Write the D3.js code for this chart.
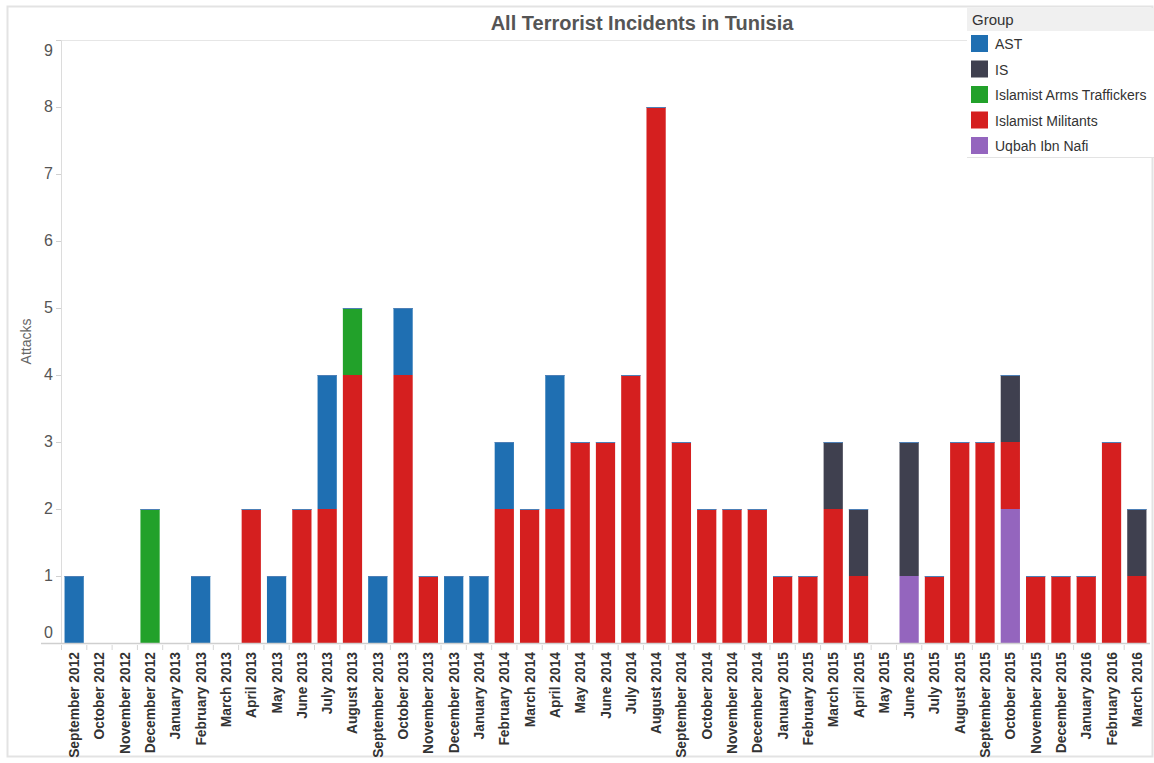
<!DOCTYPE html>
<html>
<head>
<meta charset="utf-8">
<script src="https://cdn.jsdelivr.net/npm/d3@7"></script>
<style>
  body { margin: 0; background: #fff; }
  text { font-family: "Liberation Sans", Arial, sans-serif; }
</style>
</head>
<body>
<div id="chart"></div>
<script>
const width = 1154;
const height = 763;

const months = [
  "September 2012", "October 2012", "November 2012", "December 2012",
  "January 2013", "February 2013", "March 2013", "April 2013", "May 2013",
  "June 2013", "July 2013", "August 2013", "September 2013", "October 2013",
  "November 2013", "December 2013", "January 2014", "February 2014",
  "March 2014", "April 2014", "May 2014", "June 2014", "July 2014",
  "August 2014", "September 2014", "October 2014", "November 2014",
  "December 2014", "January 2015", "February 2015", "March 2015",
  "April 2015", "May 2015", "June 2015", "July 2015", "August 2015",
  "September 2015", "October 2015", "November 2015", "December 2015",
  "January 2016", "February 2016", "March 2016"
];

// attacks per month, one array per group
const ast      = [1,0,0,0,0,1,0,0,1,0,2,0,1,1,0,1,1,1,0,2,0,0,0,0,0,0,0,0,0,0,0,0,0,0,0,0,0,0,0,0,0,0,0];
const is       = [0,0,0,0,0,0,0,0,0,0,0,0,0,0,0,0,0,0,0,0,0,0,0,0,0,0,0,0,0,0,1,1,0,2,0,0,0,1,0,0,0,0,1];
const arms     = [0,0,0,2,0,0,0,0,0,0,0,1,0,0,0,0,0,0,0,0,0,0,0,0,0,0,0,0,0,0,0,0,0,0,0,0,0,0,0,0,0,0,0];
const militant = [0,0,0,0,0,0,0,2,0,2,2,4,0,4,1,0,0,2,2,2,3,3,4,8,3,2,2,2,1,1,2,1,0,0,1,3,3,1,1,1,1,3,1];
const uqbah    = [0,0,0,0,0,0,0,0,0,0,0,0,0,0,0,0,0,0,0,0,0,0,0,0,0,0,0,0,0,0,0,0,0,1,0,0,0,2,0,0,0,0,0];

const groups = ["AST", "IS", "Islamist Arms Traffickers", "Islamist Militants", "Uqbah Ibn Nafi"];
const colors = ["#1f6fb2", "#3f404f", "#22a12a", "#d51f1f", "#9465be"];
const yTicks = [0, 1, 2, 3, 4, 5, 6, 7, 8, 9];

const seriesByGroup = {
  "AST": ast,
  "IS": is,
  "Islamist Arms Traffickers": arms,
  "Islamist Militants": militant,
  "Uqbah Ibn Nafi": uqbah
};

const rows = months.map((m, i) => {
  const r = { month: m };
  groups.forEach(g => { r[g] = seriesByGroup[g][i]; });
  return r;
});

// bottom of the stack is the last legend entry
const stackOrder = groups.slice().reverse();
const stacked = d3.stack().keys(stackOrder)(rows);

const margin = { top: 40, right: 4, bottom: 120, left: 61 };
const plotBottom = 643;

const color = d3.scaleOrdinal().domain(groups).range(colors);

const x = d3.scaleBand()
  .domain(months)
  .range([margin.left, width - margin.right])
  .paddingInner(0.24)
  .paddingOuter(0.14);

const y = d3.scaleLinear().domain([0, 9]).range([plotBottom, margin.top]);

const svg = d3.select("#chart")
  .append("svg")
  .attr("width", width)
  .attr("height", height);

// outer frame
svg.append("rect")
  .attr("x", 7.5).attr("y", 6.5)
  .attr("width", width - 9).attr("height", height - 13)
  .attr("fill", "none")
  .attr("stroke", "#e3e3e3")
  .attr("stroke-width", 2);

// top gridline
svg.append("line")
  .attr("x1", margin.left).attr("x2", width - margin.right)
  .attr("y1", y(9) + 0.5).attr("y2", y(9) + 0.5)
  .attr("stroke", "#e6e6e6");

// y axis
const yAxis = svg.append("g")
  .attr("transform", `translate(${margin.left},0)`)
  .call(d3.axisLeft(y).tickValues(yTicks).tickSize(5).tickFormat(d3.format("d")));
yAxis.select(".domain").attr("stroke", "#dcdcdc");
yAxis.selectAll(".tick line").attr("stroke", "#d0d0d0");
yAxis.selectAll(".tick text")
  .attr("x", -8)
  .attr("dy", d => d === 9 ? "0.95em" : d === 0 ? "-0.35em" : "0.3em")
  .attr("fill", "#555")
  .style("font-size", "16px");

svg.append("text")
  .attr("transform", `translate(31,${(margin.top + plotBottom) / 2}) rotate(-90)`)
  .attr("text-anchor", "middle")
  .attr("fill", "#666")
  .style("font-size", "14px")
  .text("Attacks");

// bars
svg.append("g")
  .selectAll("g")
  .data(stacked)
  .join("g")
  .attr("fill", d => color(d.key))
  .selectAll("rect")
  .data(d => d)
  .join("rect")
  .attr("x", d => x(d.data.month))
  .attr("width", x.bandwidth())
  .attr("y", d => y(d[1]))
  .attr("height", d => y(d[0]) - y(d[1]));

// thin edge on top of each stack
const totals = rows.map(r => d3.sum(groups, g => r[g]));
svg.append("g")
  .selectAll("line")
  .data(months.filter((m, i) => totals[i] > 0))
  .join("line")
  .attr("x1", m => x(m))
  .attr("x2", m => x(m) + x.bandwidth())
  .attr("y1", m => y(totals[months.indexOf(m)]) + 0.5)
  .attr("y2", m => y(totals[months.indexOf(m)]) + 0.5)
  .attr("stroke", "#4d7fb6")
  .attr("stroke-width", 1);

// x axis baseline and separators
const step = x.step();
const pad = step * x.paddingInner() / 2;
svg.append("line")
  .attr("x1", margin.left - 20).attr("x2", width - margin.right)
  .attr("y1", plotBottom + 0.5).attr("y2", plotBottom + 0.5)
  .attr("stroke", "#cfcfcf")
  .attr("stroke-width", 1.5);

svg.append("g")
  .selectAll("line")
  .data(months)
  .join("line")
  .attr("x1", m => x(m) - pad)
  .attr("x2", m => x(m) - pad)
  .attr("y1", plotBottom + 2)
  .attr("y2", plotBottom + 7)
  .attr("stroke", "#d6d6d6");

svg.append("g")
  .selectAll("text")
  .data(months)
  .join("text")
  .attr("transform", m => `translate(${x(m) + x.bandwidth() / 2 + 5},${plotBottom + 9}) rotate(-90)`)
  .attr("text-anchor", "end")
  .attr("fill", "#333")
  .style("font-size", "13.8px")
  .style("font-weight", "bold")
  .text(m => m);

// title
svg.append("text")
  .attr("x", 642)
  .attr("y", 30)
  .attr("text-anchor", "middle")
  .attr("fill", "#555")
  .style("font-size", "20px")
  .style("font-weight", "bold")
  .text("All Terrorist Incidents in Tunisia");

// legend
const legend = svg.append("g").attr("transform", "translate(967,8)");
legend.append("rect")
  .attr("width", 187).attr("height", 149)
  .attr("fill", "#fff");
legend.append("rect")
  .attr("width", 187).attr("height", 23)
  .attr("fill", "#f0f0f0");
legend.append("line")
  .attr("x1", 0).attr("x2", 187)
  .attr("y1", 149.5).attr("y2", 149.5)
  .attr("stroke", "#e3e3e3");
legend.append("text")
  .attr("x", 5).attr("y", 17)
  .attr("fill", "#333")
  .style("font-size", "15px")
  .text("Group");

const item = legend.selectAll(".item")
  .data(groups)
  .join("g")
  .attr("class", "item")
  .attr("transform", (d, i) => `translate(4,${27 + i * 25.5})`);
item.append("rect")
  .attr("width", 17).attr("height", 17)
  .attr("fill", d => color(d));
item.append("text")
  .attr("x", 24).attr("y", 14)
  .attr("fill", "#333")
  .style("font-size", "14px")
  .text(d => d);
</script>
</body>
</html>
